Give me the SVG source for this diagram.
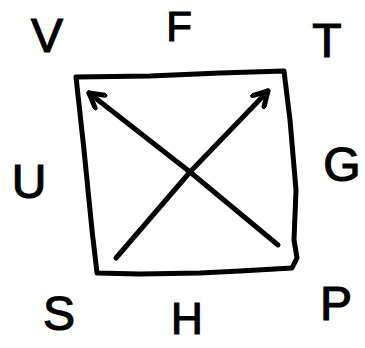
<svg xmlns="http://www.w3.org/2000/svg" width="365" height="348" viewBox="0 0 365 348">
<style>
.lbl{font-family:"Liberation Sans",Arial,sans-serif;font-size:48px;fill:#000;stroke:#000;stroke-width:1.2;text-anchor:middle}
.ink{fill:none;stroke:#000;stroke-width:5;stroke-linecap:round;stroke-linejoin:round}
</style>
<defs>
<marker id="ah" viewBox="0 0 20 20" refX="17" refY="10" markerWidth="20" markerHeight="20" markerUnits="userSpaceOnUse" orient="auto">
<polyline points="3,2 17,10 3,18" fill="none" stroke="#000" stroke-width="5" stroke-linecap="round" stroke-linejoin="round"/>
</marker>
</defs>
<rect width="365" height="348" fill="#fff"/>
<g id="box">
<path class="ink" d="M76,77 L150,76 L220,73 L284,71 L290,120 L296,190 L294,240 L297,258 L292,268 L240,271 L200,273 L140,274 L97,273 L92,230 L84,150 L76,77"/>
</g>
<g id="connectors">
<path class="ink" d="M116,258 L190,172 L268,91" marker-end="url(#ah)"/>
<path class="ink" d="M278,245 L190,172 L89,93" marker-end="url(#ah)"/>
</g>
<g id="V"><text class="lbl" x="47" y="52">V</text></g>
<g id="F"><text class="lbl" x="179" y="41" style="font-size:42px">F</text></g>
<g id="T"><text class="lbl" x="327" y="57">T</text></g>
<g id="U"><text class="lbl" x="29" y="198">U</text></g>
<g id="G"><text class="lbl" x="342" y="181">G</text></g>
<g id="S"><text class="lbl" x="59" y="330">S</text></g>
<g id="H"><text class="lbl" x="187" y="334" style="font-size:44px">H</text></g>
<g id="P"><text class="lbl" x="336" y="320">P</text></g>
</svg>
